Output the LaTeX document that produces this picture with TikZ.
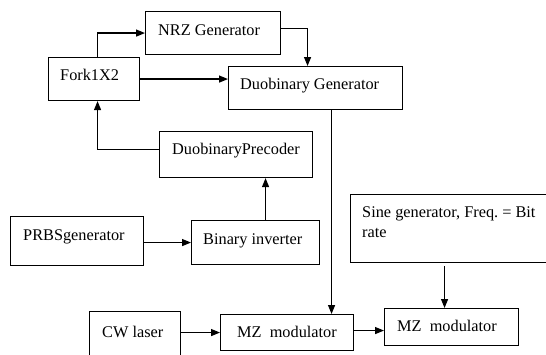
\documentclass[tikz,border=0pt]{standalone}
\usepackage{fontspec}
\setmainfont{Liberation Serif}
\usetikzlibrary{arrows.meta,calc}
\tikzset{
  box/.style={draw=black, line width=1.1pt, rectangle, inner sep=0pt, anchor=north west},
  lbl/.style={anchor=base west, inner sep=0pt, font=\fontsize{16.3}{20}\selectfont},
  arr/.style={draw=black, line width=1.3pt, -{Triangle[length=9pt,width=7pt]}},
}
\begin{document}
\begin{tikzpicture}[x=1pt,y=-1pt]
\useasboundingbox (0,0) rectangle (546,354);
\fill[white] (0,0) rectangle (546,354);
% boxes
\node[box, minimum width=135, minimum height=43] (nrz) at (145,11) {};
\node[box, minimum width=91, minimum height=43] (fork) at (48,57) {};
\node[box, minimum width=174, minimum height=43] (duo) at (228,66) {};
\node[box, minimum width=153, minimum height=46] (pre) at (159,131) {};
\node[box, minimum width=133, minimum height=49] (prbs) at (10,216) {};
\node[box, minimum width=128, minimum height=44] (bin) at (191,220) {};
\node[box, minimum width=200, minimum height=68] (sine) at (350,194) {};
\node[box, minimum width=91, minimum height=52] (cw) at (89,311) {};
\node[box, minimum width=133, minimum height=36] (mz1) at (220,314) {};
\node[box, minimum width=134, minimum height=37] (mz2) at (384,308) {};
% labels
\node[lbl] (tnrz) at (158,35) {NRZ Generator};
\node[lbl] (tfork) at (60,80) {Fork1X2};
\node[lbl] (tduo) at (240,89) {Duobinary Generator};
\node[lbl] (tpre) at (172,154) {DuobinaryPrecoder};
\node[lbl] (tprbs) at (23,240) {PRBSgenerator};
\node[lbl] (tbin) at (203,244) {Binary inverter};
\node[lbl] (tsine1) at (362,217) {Sine generator, Freq.\ = Bit};
\node[lbl] (tsine2) at (362,237) {rate};
\node[lbl] (tcw) at (102,337) {CW laser};
\node[lbl] (tmz1) at (237,337) {MZ\ \ modulator};
\node[lbl] (tmz2) at (397,331) {MZ\ \ modulator};
% connectors
\draw[arr] ([xshift=3.5pt]fork.north) |- (nrz.west);
\draw[arr] ([yshift=4.5pt]nrz.east) -| ([xshift=-8pt]duo.north);
\draw[arr] (fork.east) -- (fork.east -| duo.west);
\draw[arr] ([yshift=5pt]pre.west) -| ([xshift=3.5pt]fork.south);
\draw[arr] ([xshift=10pt]bin.north) -- ([xshift=10pt]bin.north |- pre.south);
\draw[arr] (bin.west -| prbs.east) -- (bin.west);
\draw[arr] ([xshift=16pt]duo.south) -- ([xshift=16pt]duo.south |- mz1.north);
\draw[arr] (mz1.west -| cw.east) -- (mz1.west);
\draw[arr] ([yshift=2pt]mz1.east) -- ([yshift=2pt]mz1.east -| mz2.west);
\draw[arr] ([xshift=-7pt,yshift=-3pt]mz2.north |- sine.south) -- ([xshift=-7pt]mz2.north);
\end{tikzpicture}
\end{document}
